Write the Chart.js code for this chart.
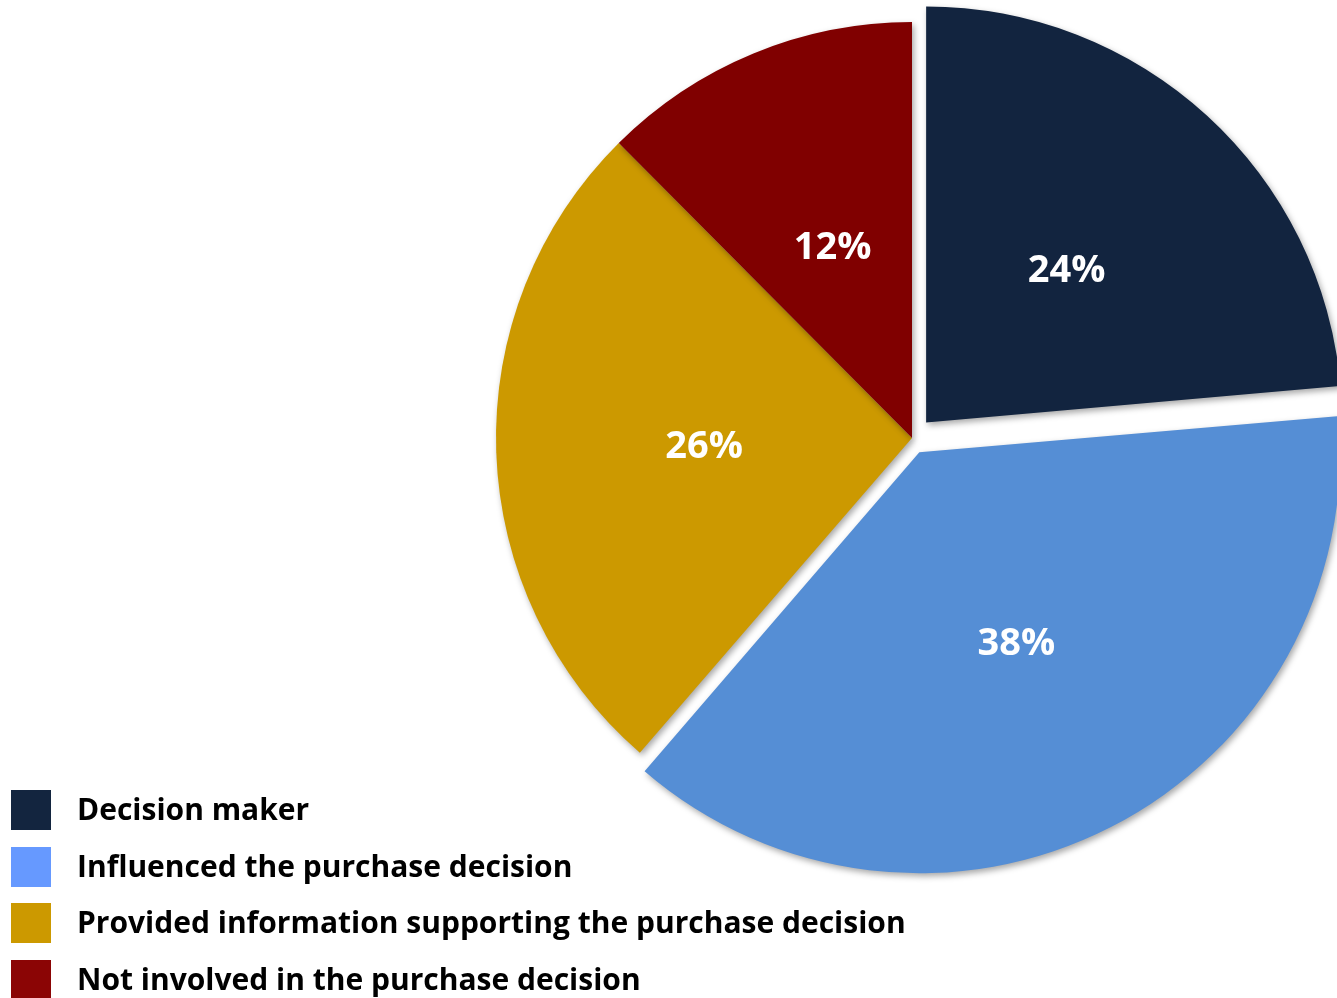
<!DOCTYPE html>
<html>
<head>
<meta charset="utf-8">
<script src="https://cdn.jsdelivr.net/npm/chart.js@4"></script>
<style>
  body { margin: 0; background: #fff; }
  #wrap { position: relative; width: 1337px; height: 998px; overflow: hidden; }
  #legend { position: absolute; left: 11px; top: 790px; font-family: "Open Sans", sans-serif; font-weight: 700; font-size: 30px; color: #000; }
  .item { position: absolute; left: 0; height: 40px; white-space: nowrap; }
  .box { position: absolute; left: 0; top: 0; width: 40px; height: 40px; }
  .txt { position: absolute; left: 66px; top: 0; line-height: 38px; }
</style>
</head>
<body>
<div id="wrap">
  <canvas id="pie" width="1337" height="998"></canvas>
  <div id="legend"></div>
</div>
<script>
// Chart data (slice sizes; labels show them rounded)
const labels = [
  "Decision maker",
  "Influenced the purchase decision",
  "Provided information supporting the purchase decision",
  "Not involved in the purchase decision"
];
const shares = [23.6, 37.75, 26.2, 12.45];
const sliceColors = ["#12243F", "#558ED5", "#CC9900", "#800000"];
const legendColors = ["#13253F", "#6699FF", "#CC9900", "#8B0505"];
const explode = [21, 21, 0, 0]; // visible pull-out of each slice, px
const legendTops = [0, 57, 113, 170];

// Chart.js moves an arc by offset/4 * (2 - sin(circumference)),
// so turn the wanted pull-out into the option value
function toArcOffset(px, i) {
  const total = shares.reduce(function (a, b) { return a + b; }, 0);
  const circ = shares[i] / total * Math.PI * 2;
  return px * 4 / (2 - Math.sin(Math.min(Math.PI, circ)));
}

document.addEventListener("DOMContentLoaded", function () {
  // Simple HTML legend built from the arrays
  const legend = document.getElementById("legend");
  labels.forEach(function (name, i) {
    const item = document.createElement("div");
    item.className = "item";
    item.style.top = legendTops[i] + "px";
    item.innerHTML = '<div class="box" style="background:' + legendColors[i] + '"></div><div class="txt">' + name + "</div>";
    legend.appendChild(item);
  });

  // soft drop shadow under the slices
  const shadowPlugin = {
    id: "shadow",
    beforeDatasetsDraw(chart) {
      const ctx = chart.ctx;
      ctx.save();
      ctx.shadowColor = "rgba(0,0,0,0.35)";
      ctx.shadowBlur = 6;
      ctx.shadowOffsetX = 2;
      ctx.shadowOffsetY = 3;
    },
    afterDatasetsDraw(chart) {
      chart.ctx.restore();
    }
  };

  // percentage labels in the middle of each slice
  const pctLabels = {
    id: "pctLabels",
    afterDatasetsDraw(chart) {
      const ctx = chart.ctx;
      const meta = chart.getDatasetMeta(0);
      ctx.save();
      ctx.fillStyle = "#fff";
      ctx.font = "bold 38px 'Open Sans'";
      ctx.textAlign = "center";
      ctx.textBaseline = "middle";
      meta.data.forEach(function (arc, i) {
        const p = arc.getProps(["x", "y", "startAngle", "endAngle", "outerRadius"]);
        const mid = (p.startAngle + p.endAngle) / 2;
        const r = explode[i] + p.outerRadius * 0.5;
        ctx.fillText(Math.round(shares[i]) + "%", p.x + Math.cos(mid) * r, p.y + Math.sin(mid) * r + 2);
      });
      ctx.restore();
    }
  };

  const ctx = document.getElementById("pie").getContext("2d");
  new Chart(ctx, {
    type: "pie",
    data: {
      labels: labels,
      datasets: [{
        data: shares,
        backgroundColor: sliceColors,
        borderWidth: 0,
        offset: explode.map(toArcOffset)
      }]
    },
    options: {
      responsive: false,
      animation: false,
      radius: 416,
      layout: { padding: { left: 487, right: 0, top: 0, bottom: 122 } },
      plugins: {
        legend: { display: false },
        tooltip: { enabled: false }
      }
    },
    plugins: [shadowPlugin, pctLabels]
  });
});
</script>
</body>
</html>
